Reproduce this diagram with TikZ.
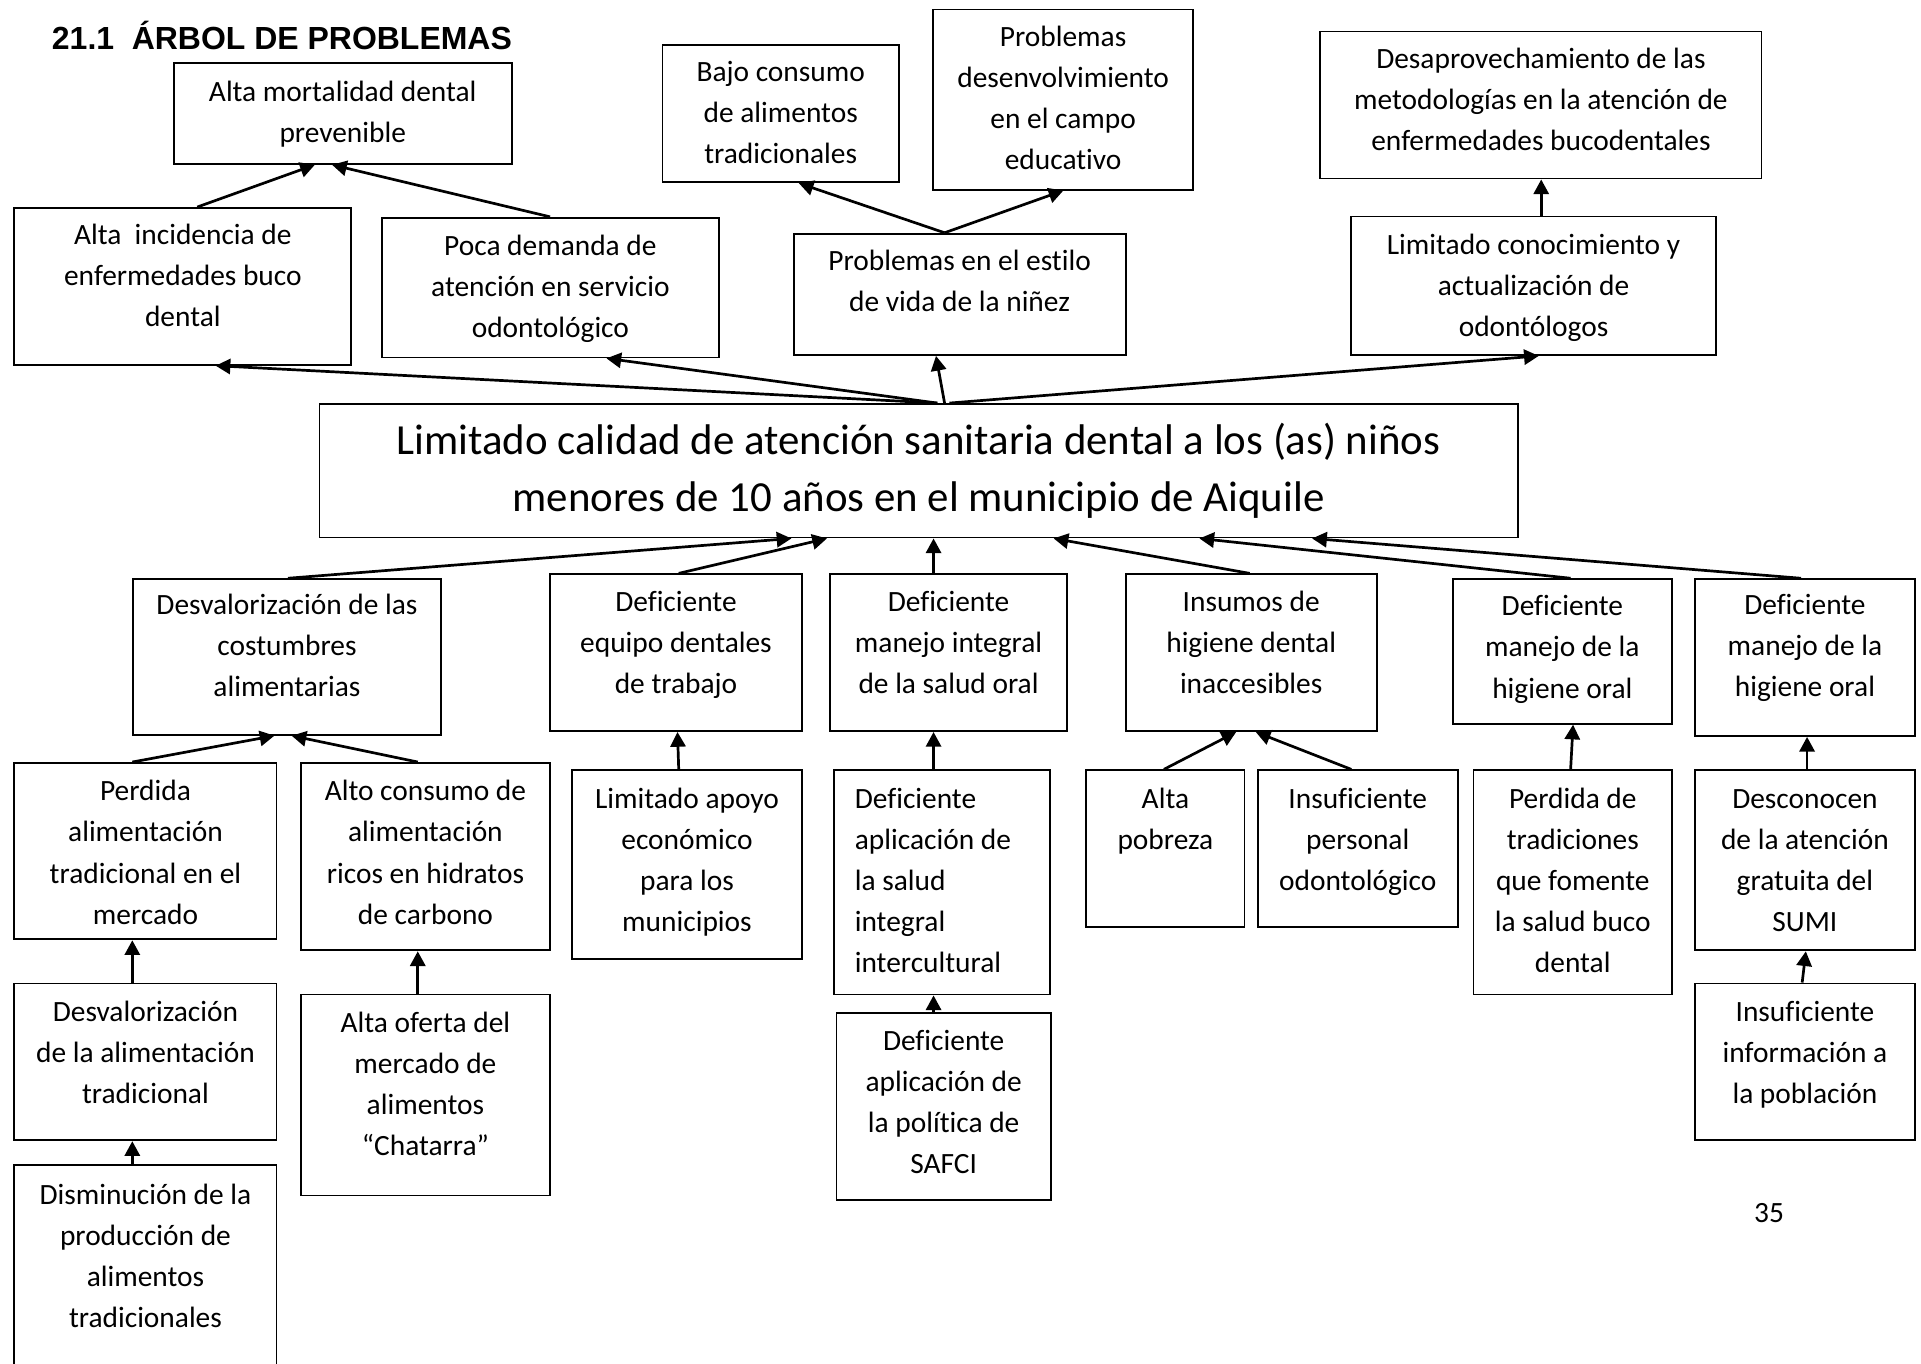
\documentclass[tikz,border=0pt]{standalone}
\usepackage{fontspec}
\setmainfont{Carlito}[Ligatures={NoCommon}]
\newfontfamily\titlefont{Liberation Sans}
\usetikzlibrary{arrows.meta}
\tikzset{
  pb/.style={draw, line width=0.75pt, inner sep=0pt, anchor=north west, font=\fontsize{12}{16.75}\selectfont},
  arr/.style={line width=1.1pt, -{Triangle[length=6pt,width=6.2pt]}},
  plain/.style={inner sep=0pt}
}
% #1 name, #2 x1, #3 y1, #4 x2, #5 y2, #6 first baseline, #7 text
\newcommand\pbx[7]{\node[pb] (#1) at (#2,#3) {\parbox[c][\dimexpr(#5pt-#3pt)/2\relax][t]{\dimexpr(#4pt-#2pt)/2\relax}{\centering\rule{0pt}{\dimexpr(#6pt-#3pt)/2\relax}#7}};}
\newcommand\conn[4]{\draw[arr] (#1.north -| #2,0) -- (#3.south -| #4,0);}
\begin{document}
\begin{tikzpicture}[x=0.5pt,y=-0.5pt]
\useasboundingbox (0,0) rectangle (1568,1113);
\begin{scope}
\clip (0,0) rectangle (1568,1113);
\node[plain, anchor=base west] (title) at (42,40) {\titlefont\bfseries\fontsize{13.05}{15}\selectfont 21.1\hspace{0.55em}ÁRBOL DE PROBLEMAS};
% top level
\pbx{b1}{141}{51}{417}{133}{82}{Alta mortalidad dental\\prevenible}
\pbx{b2}{11}{169}{286}{297}{199}{Alta\ \ incidencia de\\enfermedades buco\\dental}
\pbx{b3}{311}{177}{586}{291}{208}{Poca demanda de\\atención en servicio\\odontológico}
\pbx{b4}{540}{36}{733}{148}{66}{Bajo consumo\\de alimentos\\tradicionales}
\pbx{b5}{761}{7}{973}{154}{37}{Problemas\\desenvolvimiento\\en el campo\\educativo}
\pbx{b6}{647}{190}{918}{289}{220}{Problemas en el estilo\\de vida de la niñez}
\pbx{b7}{1077}{25}{1437}{145}{55}{Desaprovechamiento de las\\metodologías en la atención de\\enfermedades bucodentales}
\pbx{b8}{1102}{176}{1400}{289}{207}{Limitado conocimiento y\\actualización de\\odontólogos}
% central
\pbx{cen}{260}{329}{1238}{438}{370}{\fontsize{17.5}{23.5}\selectfont Limitado calidad de atención sanitaria dental a los (as) niños\\menores de 10 años en el municipio de Aiquile}
% causes level 1
\pbx{c1}{108}{472}{359}{599}{501}{Desvalorización de las\\costumbres\\alimentarias}
\pbx{c2}{448}{468}{654}{596}{498}{Deficiente\\equipo dentales\\de trabajo}
\pbx{c3}{677}{468}{870}{596}{498}{Deficiente\\manejo integral\\de la salud oral}
\pbx{c4}{918}{468}{1123}{596}{498}{Insumos de\\higiene dental\\inaccesibles}
\pbx{c5}{1185}{472}{1364}{590}{502}{Deficiente\\manejo de la\\higiene oral}
\pbx{c6}{1383}{472}{1562}{600}{501}{Deficiente\\manejo de la\\higiene oral}
% causes level 2
\pbx{d1}{11}{622}{225}{766}{653}{Perdida\\alimentación\\tradicional en el\\mercado}
\pbx{d2}{245}{622}{448}{775}{653}{Alto consumo de\\alimentación\\ricos en hidratos\\de carbono}
\pbx{d3}{466}{628}{654}{782}{659}{Limitado apoyo\\económico\\para los\\municipios}
\pbx{d4}{680}{628}{856}{811}{659}{\raggedright\leftskip=8.5pt Deficiente\\aplicación de\\la salud\\integral\\intercultural}
\pbx{d5}{886}{628}{1015}{756}{659}{Alta\\pobreza}
\pbx{d6}{1026}{628}{1189}{756}{659}{Insuficiente\\personal\\odontológico}
\pbx{d7}{1202}{628}{1364}{811}{659}{Perdida de\\tradiciones\\que fomente\\la salud buco\\dental}
\pbx{d8}{1383}{628}{1562}{775}{659}{Desconocen\\de la atención\\gratuita del\\SUMI}
% causes level 3
\pbx{e1}{11}{802}{225}{930}{833}{Desvalorización\\de la alimentación\\tradicional}
\pbx{e2}{245}{811}{448}{975}{842}{Alta oferta del\\mercado de\\alimentos\\“Chatarra”}
\pbx{e3}{682}{826}{857}{979}{857}{Deficiente\\aplicación de\\la política de\\SAFCI}
\pbx{e4}{1383}{802}{1562}{930}{833}{Insuficiente\\información a\\la población}
\pbx{e5}{11}{950}{225}{1125}{982}{Disminución de la\\producción de\\alimentos\\tradicionales}
\node[plain, anchor=base, font=\fontsize{12}{14}\selectfont] (page) at (1444,998) {35};
% effects arrows
\conn{b2}{161}{b1}{257}
\conn{b3}{449}{b1}{271}
\conn{b6}{771}{b4}{652}
\conn{b6}{771}{b5}{868}
\conn{b8}{1258}{b7}{1258}
\draw[arr] (cen.north -| 765,0) -- (b2.south -| 176,0);
\draw[arr] (cen.north -| 765,0) -- (b3.south -| 495,0);
\draw[arr] (cen.north -| 771,0) -- (b6.south -| 764,0);
\draw[arr] (cen.north -| 775,0) -- (b8.south -| 1256,0);
% causes to central
\draw[arr] (c1.north -| 235,0) -- (cen.south -| 646,0);
\draw[arr] (c2.north -| 554,0) -- (cen.south -| 675,0);
\draw[arr] (c3.north -| 762,0) -- (cen.south -| 762,0);
\draw[arr] (c4.north -| 1020,0) -- (cen.south -| 860,0);
\draw[arr] (c5.north -| 1282,0) -- (cen.south -| 979,0);
\draw[arr] (c6.north -| 1470,0) -- (cen.south -| 1071,0);
% level 2 to level 1
\conn{d1}{108}{c1}{224}
\conn{d2}{341}{c1}{238}
\conn{d3}{554}{c2}{553}
\conn{d4}{762}{c3}{762}
\conn{d5}{950}{c4}{1009}
\conn{d6}{1103}{c4}{1025}
\conn{d7}{1282}{c5}{1284}
\conn{d8}{1475}{c6}{1475}
% level 3 to level 2
\conn{e1}{108}{d1}{108}
\conn{e2}{341}{d2}{341}
\conn{e3}{762}{d4}{762}
\conn{e4}{1471}{d8}{1474}
\conn{e5}{108}{e1}{108}
\end{scope}
\end{tikzpicture}
\end{document}
